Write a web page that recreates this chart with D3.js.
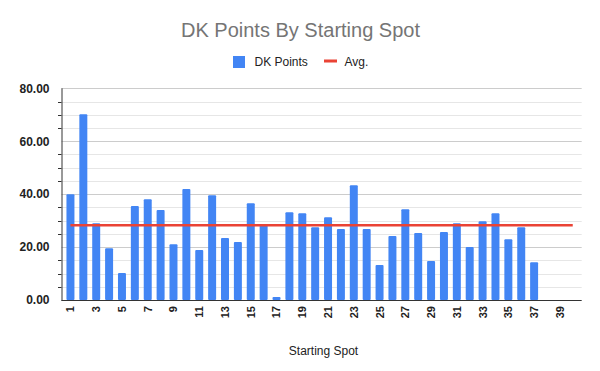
<!DOCTYPE html>
<html>
<head>
<meta charset="utf-8">
<script src="https://cdn.jsdelivr.net/npm/d3@7/dist/d3.min.js"></script>
<style>
  html, body { margin: 0; padding: 0; background: #fff; }
  svg { display: block; font-family: "Liberation Sans", Arial, sans-serif; }
</style>
</head>
<body>
<svg id="chart" width="600" height="371"></svg>
<script>
// ---- data ----
const categories = d3.range(1, 41).map(String); // starting spots 1..40
const dkPoints = [40.0, 70.2, 29.0, 19.6, 10.2, 35.5, 38.1, 34.0, 21.1, 41.9,
                  18.9, 39.6, 23.4, 21.9, 36.6, 28.7, 1.1, 33.2, 32.8, 27.5,
                  31.3, 26.8, 43.4, 26.8, 13.2, 24.2, 34.3, 25.3, 14.7, 25.7,
                  29.0, 20.0, 29.8, 32.8, 23.0, 27.5, 14.3, null, null, null];
const avgValue = 28.25;
const yTickValues = [0, 20, 40, 60, 80];
const yMinorValues = [5, 10, 15, 25, 30, 35, 45, 50, 55, 65, 70, 75];
const xTickLabels = categories.filter((d, i) => i % 2 === 0);

// ---- layout ----
const svg = d3.select("#chart");
const pLeft = 61.5, pRight = 581.7, pTop = 88.3, pBottom = 300;

const x = d3.scaleBand().domain(categories).range([pLeft, pRight])
  .paddingInner(0.38).paddingOuter(0.385);
const y = d3.scaleLinear().domain([0, 80]).range([pBottom, pTop]);
const py = d => Math.round(y(d)) + 0.5;

// minor gridlines
svg.append("g").selectAll("line").data(yMinorValues).join("line")
  .attr("x1", pLeft).attr("x2", pRight)
  .attr("y1", py).attr("y2", py)
  .attr("stroke", "#e6e6e6").attr("stroke-width", 1);
// major gridlines
svg.append("g").selectAll("line").data(yTickValues.filter(d => d > 0)).join("line")
  .attr("x1", pLeft).attr("x2", pRight)
  .attr("y1", py).attr("y2", py)
  .attr("stroke", "#cccccc").attr("stroke-width", 1);

// minor ticks on left axis
svg.append("g").selectAll("line").data(yMinorValues).join("line")
  .attr("x1", pLeft - 3.5).attr("x2", pLeft)
  .attr("y1", py).attr("y2", py)
  .attr("stroke", "#333").attr("stroke-width", 1);

// y labels
svg.append("g").selectAll("text").data(yTickValues).join("text")
  .attr("x", 49.5).attr("y", d => y(d)).attr("dy", "0.36em")
  .attr("text-anchor", "end")
  .attr("font-size", 12).attr("font-weight", "bold").attr("fill", "#222")
  .text(d => d3.format(".2f")(d));

// bars
svg.append("g").selectAll("rect")
  .data(categories.map((c, i) => ({c, v: dkPoints[i]})).filter(d => d.v != null))
  .join("rect")
  .attr("x", d => x(d.c)).attr("width", x.bandwidth())
  .attr("y", d => y(d.v)).attr("height", d => y(0) - y(d.v))
  .attr("rx", 1)
  .attr("fill", "#4285f4");

// axes lines
svg.append("line").attr("x1", pLeft).attr("x2", pRight)
  .attr("y1", pBottom + 0.5).attr("y2", pBottom + 0.5)
  .attr("stroke", "#333").attr("stroke-width", 1);
svg.append("line").attr("x1", pLeft + 0.5).attr("x2", pLeft + 0.5)
  .attr("y1", pTop).attr("y2", pBottom + 1)
  .attr("stroke", "#333").attr("stroke-width", 1);

// average line
const cx = c => x(c) + x.bandwidth() / 2;
svg.append("line")
  .attr("x1", cx(categories[0])).attr("x2", cx(categories[categories.length - 1]))
  .attr("y1", y(avgValue)).attr("y2", y(avgValue))
  .attr("stroke", "#ea4335").attr("stroke-width", 2.5);

// x labels
svg.append("g").selectAll("text").data(xTickLabels).join("text")
  .attr("transform", d => `translate(${cx(d)},${pBottom + 6}) rotate(-90)`)
  .attr("dy", "0.36em")
  .attr("text-anchor", "end")
  .attr("font-size", 11).attr("font-weight", "bold").attr("fill", "#222")
  .text(d => d);

// title
svg.append("text").attr("x", 300.5).attr("y", 37).attr("text-anchor", "middle")
  .attr("font-size", 20).attr("fill", "#757575")
  .text("DK Points By Starting Spot");

// x axis title
svg.append("text").attr("x", 323.5).attr("y", 355).attr("text-anchor", "middle")
  .attr("font-size", 12).attr("fill", "#222")
  .text("Starting Spot");

// legend
const lg = svg.append("g");
lg.append("rect").attr("x", 233).attr("y", 56).attr("width", 12).attr("height", 12).attr("fill", "#4285f4");
lg.append("text").attr("x", 254.5).attr("y", 66).attr("font-size", 12).attr("fill", "#222").text("DK Points");
lg.append("rect").attr("x", 324).attr("y", 59.5).attr("width", 13).attr("height", 3).attr("fill", "#ea4335");
lg.append("text").attr("x", 344.5).attr("y", 66).attr("font-size", 12).attr("fill", "#222").text("Avg.");
</script>
</body>
</html>
